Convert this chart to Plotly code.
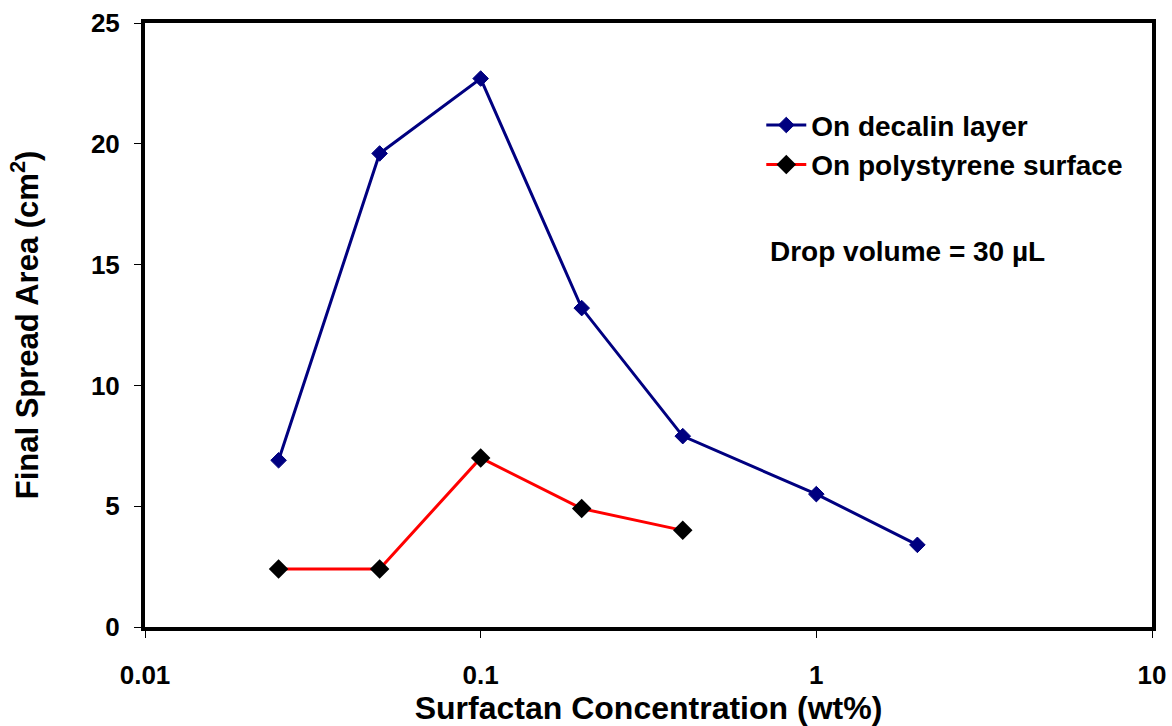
import plotly.graph_objects as go

conc_decalin = [0.025, 0.05, 0.1, 0.2, 0.4, 1, 2]
area_decalin = [6.9, 19.6, 22.7, 13.2, 7.9, 5.5, 3.4]
conc_ps = [0.025, 0.05, 0.1, 0.2, 0.4]
area_ps = [2.4, 2.4, 7.0, 4.9, 4.0]
x_ticks = [0.01, 0.1, 1, 10]
x_ticktext = ["0.01", "0.1", "1", "10"]

FONT = "Liberation Sans, Arial, sans-serif"

fig = go.Figure()
fig.add_trace(go.Scatter(
    x=conc_decalin, y=area_decalin, mode="lines+markers",
    name="<b>On decalin layer</b>",
    line=dict(color="#000080", width=3),
    marker=dict(symbol="diamond", size=12, color="#000080",
                line=dict(color="#000080", width=1)),
))
fig.add_trace(go.Scatter(
    x=conc_ps, y=area_ps, mode="lines+markers",
    name="<b>On polystyrene surface</b>",
    line=dict(color="#ff0000", width=3),
    marker=dict(symbol="diamond", size=15, color="#000000"),
))

fig.add_annotation(
    x=0.619, y=0.621, xref="paper", yref="paper", xanchor="left", yanchor="middle",
    text="<b>Drop volume = 30 \u00b5L</b>", showarrow=False,
    font=dict(family=FONT, size=28, color="black"),
)

fig.update_layout(
    width=1172, height=726,
    margin=dict(l=145, r=20, t=23, b=99),
    paper_bgcolor="white", plot_bgcolor="white",
    font=dict(family=FONT, color="black"),
    showlegend=True,
    legend=dict(x=0.612, y=0.872, xanchor="left", yanchor="top",
                font=dict(family=FONT, size=28, color="black"),
                bgcolor="rgba(0,0,0,0)", tracegroupgap=0, itemwidth=40),
    xaxis=dict(
        type="log", range=[-2, 1], automargin=False,
        tickmode="array", tickvals=x_ticks, ticktext=x_ticktext,
        showgrid=False, zeroline=False,
        showline=True, linecolor="black", linewidth=4, mirror=True,
        ticks="outside", ticklen=7, tickwidth=1, tickcolor="black",
        ticklabelstandoff=15,
        tickfont=dict(family=FONT, size=26, color="black", weight="bold"),
        title=dict(text="<b>Surfactan Concentration (wt%)</b>",
                   font=dict(family=FONT, size=32, color="black"), standoff=13),
    ),
    yaxis=dict(
        range=[0, 25], tickmode="linear", tick0=0, dtick=5, automargin=False,
        showgrid=False, zeroline=False,
        showline=True, linecolor="black", linewidth=4, mirror=True,
        ticks="outside", ticklen=7, tickwidth=1, tickcolor="black",
        ticklabelstandoff=9,
        tickfont=dict(family=FONT, size=26, color="black", weight="bold"),
        title=dict(text="<b>Final Spread Area (cm<sup>2</sup>)</b>",
                   font=dict(family=FONT, size=31, color="black"), standoff=44),
    ),
)

fig.write_html("out.html")
